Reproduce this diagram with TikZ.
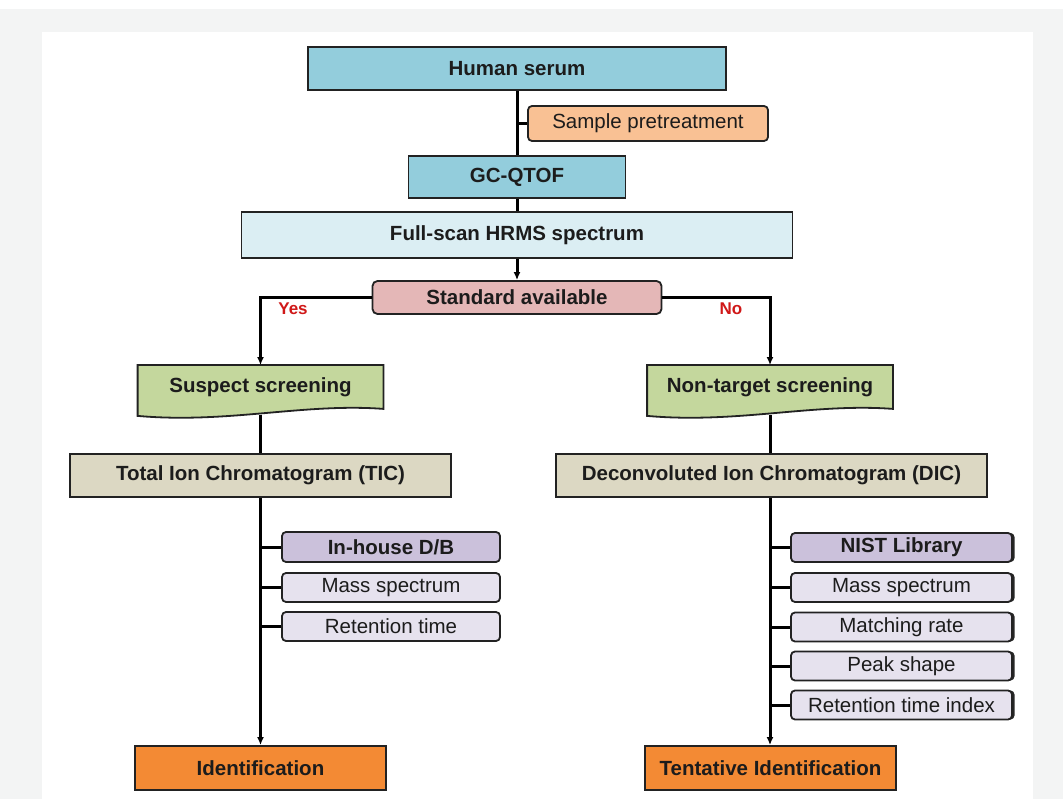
\documentclass[tikz,border=0pt]{standalone}
\usepackage{fontspec}
\setmainfont{Liberation Sans}
\usepackage{tikz}
\usetikzlibrary{arrows.meta, positioning, backgrounds, shadows}
\definecolor{edge}{HTML}{222222}
\definecolor{ink}{HTML}{1C1C1C}
\definecolor{panel}{HTML}{F3F4F4}
\definecolor{serum}{HTML}{93CDDC}
\definecolor{peach}{HTML}{F9C194}
\definecolor{paleblue}{HTML}{DBEEF3}
\definecolor{rose}{HTML}{E4B7B7}
\definecolor{leaf}{HTML}{C4D79D}
\definecolor{tan}{HTML}{DCD8C3}
\definecolor{lilac}{HTML}{CBC1DB}
\definecolor{palelilac}{HTML}{E6E2EE}
\definecolor{result}{HTML}{F38A34}
\definecolor{answer}{HTML}{D01818}

\begin{document}
\begin{tikzpicture}[x=1pt, y=-1pt,
  box/.style={rectangle, draw=edge, line width=1.8pt, inner sep=0pt, text=ink, font=\fontsize{20.5}{24}\selectfont\bfseries},
  step1/.style={box, fill=serum},
  note/.style={box, fill=peach, rounded corners=4pt, font=\fontsize{20.5}{24}\selectfont},
  decision/.style={box, fill=rose, rounded corners=5pt},
  chrom/.style={box, fill=tan},
  item/.style={box, fill=palelilac, rounded corners=4pt, font=\fontsize{20.5}{24}\selectfont},
  itemhead/.style={item, fill=lilac, font=\fontsize{20.5}{24}\selectfont\bfseries},
  shade/.style={drop shadow={shadow xshift=2.5pt, shadow yshift=0pt, opacity=1, fill=black!85}},
  doc/.style={box, draw=none, minimum width=244, minimum height=42},
  docline/.style={draw=edge, line width=1.8pt, fill=leaf},
  final/.style={box, fill=result, minimum width=251, minimum height=44},
  link/.style={draw=black, line width=3pt},
  flow/.style={link, -{Latex[length=8pt,width=7pt]}},
  answer/.style={text=answer, font=\fontsize{17}{19}\selectfont\bfseries}
]
\useasboundingbox (0,0) rectangle (1063,799);

% top of the chart
\node[step1, minimum width=418, minimum height=43] (serum)    at (517,68.5) {Human serum};
\node[note, minimum width=240, minimum height=35]  (pretreat) at (648,123.5) {Sample pretreatment};
\node[step1, minimum width=217, minimum height=42] (gcqtof)   at (517,177)  {GC-QTOF};
\node[box, fill=paleblue, minimum width=551, minimum height=46] (fullscan) at (517,235) {Full-scan HRMS spectrum};
\node[decision, minimum width=289, minimum height=33] (std) at (517,297.5) {Standard available};
\node[answer] (yes) at (293,309) {Yes};
\node[answer] (no)  at (731,309) {No};

% two branches
\node[doc] (susp)   at (260.5,387) {Suspect screening};
\node[doc] (nontgt) at (770,387) {Non-target screening};
\node[chrom, minimum width=381, minimum height=43] (tic) at (260.5,475.5) {Total Ion Chromatogram (TIC)};
\node[chrom, minimum width=431, minimum height=43] (dic) at (771.5,475.5) {Deconvoluted Ion Chromatogram (DIC)};

\node[itemhead, minimum width=218, minimum height=30] (inhouse) at (391,547)   {In-house D/B};
\node[item, minimum width=218, minimum height=29]     (lmass)   at (391,587.5) {Mass spectrum};
\node[item, minimum width=218, minimum height=29]     (lrt)     at (391,626.5) {Retention time};

\node[itemhead, shade, minimum width=221, minimum height=29] (nist)   at (901.5,547.5) {NIST Library};
\node[item, shade, minimum width=221, minimum height=29]     (rmass)  at (901.5,587.5) {Mass spectrum};
\node[item, shade, minimum width=221, minimum height=29]     (match)  at (901.5,627)   {Matching rate};
\node[item, shade, minimum width=221, minimum height=29]     (peak)   at (901.5,666)   {Peak shape};
\node[item, shade, minimum width=221, minimum height=29]     (rti)    at (901.5,705)   {Retention time index};

\node[final] (ident) at (260.5,768) {Identification};
\node[final] (tent)  at (770.5,768) {Tentative Identification};

\begin{scope}[on background layer]
  \fill[panel] (0,9) rectangle (1063,799);
  \fill[white] (42,32) rectangle (1033,799);
  \foreach \n in {susp,nontgt}
    \path[docline] (\n.north west) -- (\n.north east) -- (\n.south east)
      .. controls ([xshift=-80pt,yshift=6pt]\n.south east) and ([xshift=90pt,yshift=-15pt]\n.south west) .. ([yshift=-7pt]\n.south west) -- cycle;
\end{scope}

% connectors
\draw[link] (serum) -- (gcqtof);
\draw[link] (pretreat.west) -- (pretreat.west -| serum.south);
\draw[link] (gcqtof) -- (fullscan);
\draw[flow] (fullscan) -- (std);
\draw[flow] (std.west) -| (susp.north);
\draw[flow] (std.east) -| (nontgt.north);
\draw[link] ([yshift=-6pt]susp.south) -- (tic.north);
\draw[link] ([yshift=-6pt]nontgt.south) -- (dic.north -| nontgt.south);
\draw[flow] (tic.south) -- (ident.north -| tic.south);
\draw[flow] (dic.south -| nontgt.south) -- (tent.north -| nontgt.south);
\foreach \b in {inhouse,lmass,lrt}
  \draw[link] (\b.west) -- (\b.west -| tic.south);
\foreach \b in {nist,rmass,match,peak,rti}
  \draw[link] (\b.west) -- (\b.west -| nontgt.south);
\end{tikzpicture}
\end{document}
